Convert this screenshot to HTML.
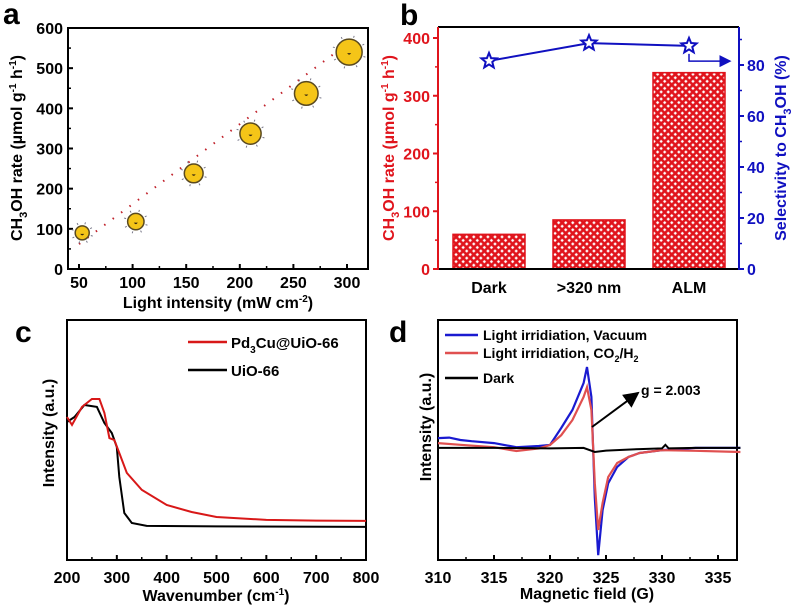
<!DOCTYPE html>
<html><head><meta charset="utf-8"><style>
body{margin:0;background:#fff;}
svg{display:block;font-family:"Liberation Sans",Arial,sans-serif;font-weight:bold;}
</style></head><body>
<svg id="fig" width="800" height="610" viewBox="0 0 800 610" xmlns="http://www.w3.org/2000/svg">
<defs>
<pattern id="hatch" width="5" height="5" patternUnits="userSpaceOnUse" patternTransform="rotate(45)">
<rect width="5" height="5" fill="#e0141c"/>
<rect x="1.3" y="1.3" width="2.4" height="2.4" fill="#fff"/>
</pattern>
<marker id="arrB" markerWidth="8" markerHeight="8" refX="7" refY="4" orient="auto"><path d="M0,0 L8,4 L0,8 z" fill="#1010c0"/></marker>
<marker id="arrK" markerWidth="8" markerHeight="8" refX="7" refY="4" orient="auto"><path d="M0,0 L8,4 L0,8 z" fill="#000"/></marker>
</defs>
<g id="g"></g>
</svg>
<script>
// ---- Panel a data ----
const aIntensity=[53,103,157,210,262,302];
const aRate=[90,118,238,337,437,540];
const aXTicks=[50,100,150,200,250,300];
const aYTicks=[0,100,200,300,400,500,600];
// ---- Panel b data ----
const bCats=["Dark",">320 nm","ALM"];
const bRate=[60,85,340];
const bSel=[81.6,88.6,87.5];
const bLeftTicks=[0,100,200,300,400];
const bRightTicks=[0,20,40,60,80];
// ---- Panel c data ----
const cRedX=[200,210,230,250,265,275,285,295,305,320,350,400,450,500,600,700,800];
const cRedY=[59.6,56.3,63.8,67.1,67.1,61.3,50.8,50,44.6,36.3,29.2,22.9,20,17.9,16.7,16.4,16.3];
const cBlkX=[200,215,235,260,275,290,300,305,315,330,360,500,800];
const cBlkY=[57.5,59.6,64.6,63.8,57.1,52.9,47.1,34.6,19.6,15.4,14.2,14,13.8];
const cXTicks=[200,300,400,500,600,700,800];
// ---- Panel d data ----
const dBlueX=[310,311,312,313,315,317,319,320,321,322,323,323.3,323.7,324,324.3,324.7,325.2,326,327,328,330,333,337];
const dBlueY=[50.8,51,50,49.5,48.7,47,47.5,47.9,55,62.5,73.7,80.4,67.9,26,2,20.8,32,38.8,42.9,44.6,45.8,46.7,46.7];
const dRedX=[310,312,315,317,319,320,321,322,323,323.3,323.7,324,324.3,324.7,325.2,326,327,328,330,333,337];
const dRedY=[48.7,48,47,45.4,46.5,47.9,52,58.3,67.9,72,62.5,32,12.5,23.8,34.6,40.4,42.9,44.6,45.8,45.5,45];
const dBlkX=[310,315,320,323,324,325,328,330,330.3,330.6,333,337];
const dBlkY=[46.7,46.7,46.5,46.7,45,45.6,46.2,46.5,48,46.5,46.7,46.7];
const dXTicks=[310,315,320,325,330,335];

const NS="http://www.w3.org/2000/svg";
const G=document.getElementById('g');
function mk(tag,at,parent){const e=document.createElementNS(NS,tag);for(const k in at)e.setAttribute(k,at[k]);(parent||G).appendChild(e);return e;}
function txt(s,x,y,size,fill,anchor,rot){const t=mk('text',{x:x,y:y,'font-size':size,fill:fill||'#000','text-anchor':anchor||'middle'});if(rot)t.setAttribute('transform','rotate(-90 '+x+' '+y+')');t.innerHTML=s;return t;}
function lin(d0,d1,p0,p1){return v=>p0+(v-d0)*(p1-p0)/(d1-d0);}
function pathOf(xs,ys,sx,sy){return xs.map((x,i)=>(i?'L':'M')+sx(x).toFixed(1)+','+sy(ys[i]).toFixed(1)).join('');}

let t;
t=txt('a',3,24,30,'#000','start');
t=txt('b',400,25,30,'#000','start');
t=txt('c',15,342,30,'#000','start');
t=txt('d',389,342,30,'#000','start');

// ================= Panel a =================
{
const ax=lin(50,300,79,347), ay=lin(0,600,269,28);
let b=mk('rect',{x:68,y:28,width:300,height:241,fill:'none',stroke:'#000','stroke-width':2});

aXTicks.forEach(v=>{mk('line',{x1:ax(v),x2:ax(v),y1:269,y2:264,stroke:'#000','stroke-width':2});
 if(v<300)mk('line',{x1:ax(v+25),x2:ax(v+25),y1:269,y2:266,stroke:'#000','stroke-width':1.5});
 t=txt(v,ax(v),288,16);});
aYTicks.forEach(v=>{mk('line',{x1:68,x2:73,y1:ay(v),y2:ay(v),stroke:'#000','stroke-width':2});
 if(v<600)mk('line',{x1:68,x2:71,y1:ay(v+50),y2:ay(v+50),stroke:'#000','stroke-width':1.5});
 t=txt(v,63,ay(v)+6,16,'#000','end');});
t=txt('Light intensity (mW cm<tspan dy="-6" font-size="10">-2</tspan><tspan dy="6">)</tspan>',218,308,16);

t=txt('CH<tspan dy="5" font-size="11">3</tspan><tspan dy="-5">OH rate (µmol g</tspan><tspan dy="-6" font-size="10">-1</tspan><tspan dy="6"> h</tspan><tspan dy="-6" font-size="10">-1</tspan><tspan dy="6">)</tspan>',22,148,16,'#000','middle',true);

let fl=mk('line',{x1:ax(50),y1:ay(62),x2:ax(300),y2:ay(560),stroke:'#c0202a','stroke-width':2,'stroke-dasharray':'1.5 9'});

aIntensity.forEach((x,i)=>{
 const cx=ax(x),cy=ay(aRate[i]),r=7+i*1.2;
 const gg=mk('g',{});
 for(let k=0;k<8;k++){const an=k*Math.PI/4+0.3;mk('line',{x1:cx+Math.cos(an)*(r+2),y1:cy+Math.sin(an)*(r+2),x2:cx+Math.cos(an)*(r+4),y2:cy+Math.sin(an)*(r+4),stroke:'#778','stroke-width':1},gg);}
 mk('circle',{cx:cx,cy:cy,r:r,fill:'#f5c518',stroke:'#5a4a20','stroke-width':1.5},gg);
 mk('path',{d:'M'+(cx-2)+','+(cy+1)+' q2,3 4,0',fill:'#3a2a10',stroke:'none'},gg);
});
}

// ================= Panel b =================
{
const L=lin(0,400,269,38), R=lin(0,80,269,65);
const bx=i=>489+i*100;
bCats.forEach((c,i)=>{
 let r=mk('rect',{x:bx(i)-36,y:L(bRate[i]),width:72,height:269-L(bRate[i]),fill:'url(#hatch)',stroke:'#e0141c','stroke-width':1.5});
 
 t=txt(c,bx(i),293,16);
});
mk('line',{x1:438,y1:27,x2:739,y2:27,stroke:'#000','stroke-width':2});
mk('line',{x1:438,y1:269,x2:739,y2:269,stroke:'#000','stroke-width':2});
let la=mk('line',{x1:438,y1:27,x2:438,y2:270,stroke:'#e0141c','stroke-width':2});

let ra=mk('line',{x1:739,y1:27,x2:739,y2:270,stroke:'#1010c0','stroke-width':2});

bLeftTicks.forEach(v=>{mk('line',{x1:438,x2:433,y1:L(v),y2:L(v),stroke:'#e0141c','stroke-width':2});
 if(v<400)mk('line',{x1:438,x2:435,y1:L(v+50),y2:L(v+50),stroke:'#e0141c','stroke-width':1.5});
 t=txt(v,430,L(v)+6,16,'#e0141c','end');});
bRightTicks.forEach(v=>{mk('line',{x1:739,x2:744,y1:R(v),y2:R(v),stroke:'#1010c0','stroke-width':2});
 mk('line',{x1:739,x2:742,y1:R(v+10),y2:R(v+10),stroke:'#1010c0','stroke-width':1.5});
 t=txt(v,747,R(v)+6,16,'#1010c0','start');});
t=txt('CH<tspan dy="5" font-size="11">3</tspan><tspan dy="-5">OH rate (µmol g</tspan><tspan dy="-6" font-size="10">-1</tspan><tspan dy="6"> h</tspan><tspan dy="-6" font-size="10">-1</tspan><tspan dy="6">)</tspan>',394,148,16,'#e0141c','middle',true);

t=txt('Selectivity to CH<tspan dy="5" font-size="11">3</tspan><tspan dy="-5">OH (%)</tspan>',786,148,16,'#1010c0','middle',true);

let sl=mk('path',{d:pathOf([0,1,2],bSel,bx,R),fill:'none',stroke:'#1010c0','stroke-width':2});

bSel.forEach((v,i)=>{const cx=bx(i),cy=R(v);let p='';for(let k=0;k<10;k++){const rr=k%2?3.5:8,an=-Math.PI/2+k*Math.PI/5;p+=(k?'L':'M')+(cx+rr*Math.cos(an)).toFixed(1)+','+(cy+rr*Math.sin(an)).toFixed(1);}
 let s=mk('path',{d:p+'Z',fill:'#fff',stroke:'#1010c0','stroke-width':2});});
let ar=mk('path',{d:'M'+bx(2)+','+(R(bSel[2])+8)+' V'+R(81.5)+' H730',fill:'none',stroke:'#1010c0','stroke-width':1.5,'marker-end':'url(#arrB)'});

}

// ================= Panel c =================
{
const sx=lin(200,800,67,366), sy=lin(0,100,560,320);
let b=mk('rect',{x:67,y:320,width:299,height:240,fill:'none',stroke:'#000','stroke-width':2});

cXTicks.forEach(v=>{mk('line',{x1:sx(v),x2:sx(v),y1:560,y2:555,stroke:'#000','stroke-width':2});
 if(v<800)mk('line',{x1:sx(v+50),x2:sx(v+50),y1:560,y2:557,stroke:'#000','stroke-width':1.5});
 t=txt(v,sx(v),583,16);});
t=txt('Wavenumber (cm<tspan dy="-6" font-size="10">-1</tspan><tspan dy="6">)</tspan>',216,601,16);

t=txt('Intensity (a.u.)',54,433,16,'#000','middle',true);
let p=mk('path',{d:pathOf(cBlkX,cBlkY,sx,sy),fill:'none',stroke:'#000','stroke-width':2});

p=mk('path',{d:pathOf(cRedX,cRedY,sx,sy),fill:'none',stroke:'#d81818','stroke-width':2});

mk('line',{x1:188,x2:227,y1:342,y2:342,stroke:'#d81818','stroke-width':2.5});
t=txt('Pd<tspan dy="5" font-size="10">3</tspan><tspan dy="-5">Cu@UiO-66</tspan>',231,348,15,'#000','start');
mk('line',{x1:188,x2:227,y1:370,y2:370,stroke:'#000','stroke-width':2.5});
t=txt('UiO-66',231,376,15,'#000','start');
}

// ================= Panel d =================
{
const sx=lin(310,335,438,718), sy=lin(0,100,560,320);
let b=mk('rect',{x:438,y:320,width:299,height:240,fill:'none',stroke:'#000','stroke-width':2});

dXTicks.forEach(v=>{mk('line',{x1:sx(v),x2:sx(v),y1:560,y2:555,stroke:'#000','stroke-width':2});
 if(v<335)mk('line',{x1:sx(v+2.5),x2:sx(v+2.5),y1:560,y2:557,stroke:'#000','stroke-width':1.5});
 t=txt(v,sx(v),583,16);});
t=txt('Magnetic field  (G)',587,599,16);
t=txt('Intensity (a.u.)',431,427,16,'#000','middle',true);
let p=mk('path',{d:pathOf(dBlueX,dBlueY,sx,sy),fill:'none',stroke:'#1a1ad0','stroke-width':2.2});

p=mk('path',{d:pathOf(dRedX,dRedY,sx,sy),fill:'none',stroke:'#e05050','stroke-width':2.2});

p=mk('path',{d:pathOf(dBlkX,dBlkY,sx,sy),fill:'none',stroke:'#000','stroke-width':2});

mk('line',{x1:445,x2:478,y1:335,y2:335,stroke:'#1a1ad0','stroke-width':2.5});
t=txt('Light irridiation, Vacuum',483,340,14,'#000','start');
mk('line',{x1:445,x2:478,y1:353,y2:353,stroke:'#e05050','stroke-width':2.5});
t=txt('Light irridiation, CO<tspan dy="4" font-size="9">2</tspan><tspan dy="-4">/H</tspan><tspan dy="4" font-size="9">2</tspan>',483,358,14,'#000','start');
mk('line',{x1:445,x2:478,y1:378,y2:378,stroke:'#000','stroke-width':2.5});
t=txt('Dark',483,383,14,'#000','start');
let a=mk('line',{x1:592,y1:427,x2:638,y2:393,stroke:'#000','stroke-width':2,'marker-end':'url(#arrK)'});

t=txt('g = 2.003',641,395,14,'#000','start');
}
</script>
</body></html>
